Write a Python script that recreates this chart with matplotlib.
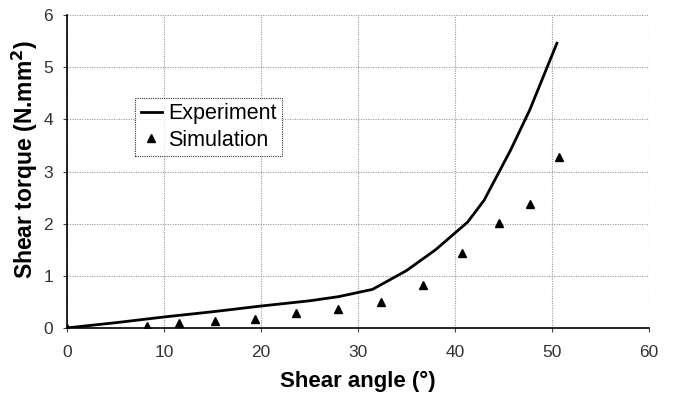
import matplotlib
matplotlib.use('Agg')
from matplotlib import pyplot as plt

# Experiment curve
exp_angle = [0, 5, 10, 15, 20, 25, 28, 31.5, 35, 38, 41.3, 43, 45.7, 47.7, 50.5]
exp_torque = [0, 0.1, 0.21, 0.31, 0.42, 0.52, 0.6, 0.74, 1.1, 1.5, 2.03, 2.45, 3.4, 4.18, 5.46]

# Simulation points
sim_angle = [0, 8.2, 11.5, 15.3, 19.4, 23.6, 27.9, 32.4, 36.7, 40.7, 44.5, 47.7, 50.7]
sim_torque = [0, 0.04, 0.1, 0.14, 0.18, 0.29, 0.36, 0.5, 0.82, 1.44, 2.02, 2.37, 3.27]

x_ticks = [0, 10, 20, 30, 40, 50, 60]
y_ticks = [0, 1, 2, 3, 4, 5, 6]

plt.rcParams['font.family'] = ['Liberation Sans', 'DejaVu Sans']

fig = plt.figure(figsize=(6.73, 3.97), dpi=100)
ax = fig.add_axes([0.0996, 0.174, 0.8648, 0.788])

ax.plot(exp_angle, exp_torque, color='black', lw=2, label='Experiment')
ax.plot(sim_angle, sim_torque, ls='none', marker='^', color='black', ms=5.5, label='Simulation')

ax.set_xlim(0, 60)
ax.set_ylim(0, 6)
ax.set_xticks(x_ticks)
ax.set_yticks(y_ticks)
ax.grid(True, color='#999999', ls=(0, (1, 1.2)), lw=0.8)
ax.set_axisbelow(True)
for s in ['top', 'right']:
    ax.spines[s].set_visible(False)
ax.spines['left'].set_linewidth(1.2)
ax.spines['bottom'].set_linewidth(1.2)
ax.tick_params(labelsize=12.5, length=3, color='#444444', labelcolor='#333333')
ax.tick_params(axis='x', pad=9)
ax.tick_params(axis='y', pad=7)

ax.set_xlabel('Shear angle (°)', fontsize=16, fontweight='bold', labelpad=8)
ax.set_ylabel('Shear torque (N.mm$^\\mathbf{2}$)', fontsize=16.5, fontweight='bold')
ax.yaxis.set_label_coords(-0.047, 0.537)

leg = ax.legend(loc='upper left', bbox_to_anchor=(0.117, 0.735), fontsize=15.5,
                frameon=True, fancybox=False, handlelength=1.0, handletextpad=0.3,
                borderpad=0.25, labelspacing=0.25, borderaxespad=0)
leg.get_frame().set_edgecolor('black')
leg.get_frame().set_linestyle((0, (1, 1)))
leg.get_frame().set_linewidth(0.8)

fig.savefig('out.png', dpi=100)
